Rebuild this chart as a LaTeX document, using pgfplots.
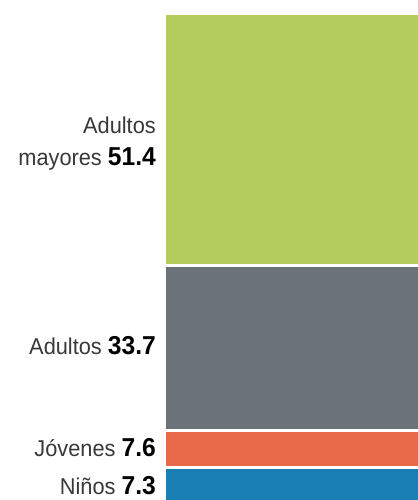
\documentclass[border=0pt]{standalone}
\usepackage{fontspec}
\setmainfont{Liberation Sans}[FakeStretch=0.95]
\usepackage{pgfplots}
\pgfplotsset{compat=1.18}
\definecolor{cgreen}{HTML}{B4CB5E}
\definecolor{cgray}{HTML}{6A7378}
\definecolor{corange}{HTML}{E9694B}
\definecolor{cblue}{HTML}{1A80B3}
\definecolor{ctext}{HTML}{383838}
\newcommand{\num}[1]{\textcolor{black}{\fontsize{26}{27}\selectfont\bfseries #1}}
\tikzset{lbl/.style={font=\fontsize{23}{27}\selectfont, text=ctext, inner sep=0pt, anchor=base east, xshift=-10bp}}
\begin{document}
\begin{tikzpicture}
\useasboundingbox (-166bp,3bp) rectangle (252bp,503bp);
\begin{axis}[at={(0,0)}, anchor=south west, scale only axis,
  width=252bp, height=489bp, hide axis,
  xmin=-0.5, xmax=0.5, ymin=0, ymax=100,
  ybar stacked, bar width=255bp, clip=false]
\addplot[fill=cblue, draw=white, line width=3bp] coordinates {(0,7.3)};
\addplot[fill=corange, draw=white, line width=3bp] coordinates {(0,7.6)};
\addplot[fill=cgray, draw=white, line width=3bp] coordinates {(0,33.7)};
\addplot[fill=cgreen, draw=white, line width=3bp] coordinates {(0,51.4)};
\node[lbl] at (axis cs:-0.5,75.5) {Adultos};
\node[lbl] at (axis cs:-0.5,69.1) {mayores \num{51.4}};
\node[lbl] at (axis cs:-0.5,30.4) {Adultos \num{33.7}};
\node[lbl] at (axis cs:-0.5,9.6) {Jóvenes \num{7.6}};
\node[lbl] at (axis cs:-0.5,1.7) {Niños \num{7.3}};
\end{axis}
\end{tikzpicture}
\end{document}
